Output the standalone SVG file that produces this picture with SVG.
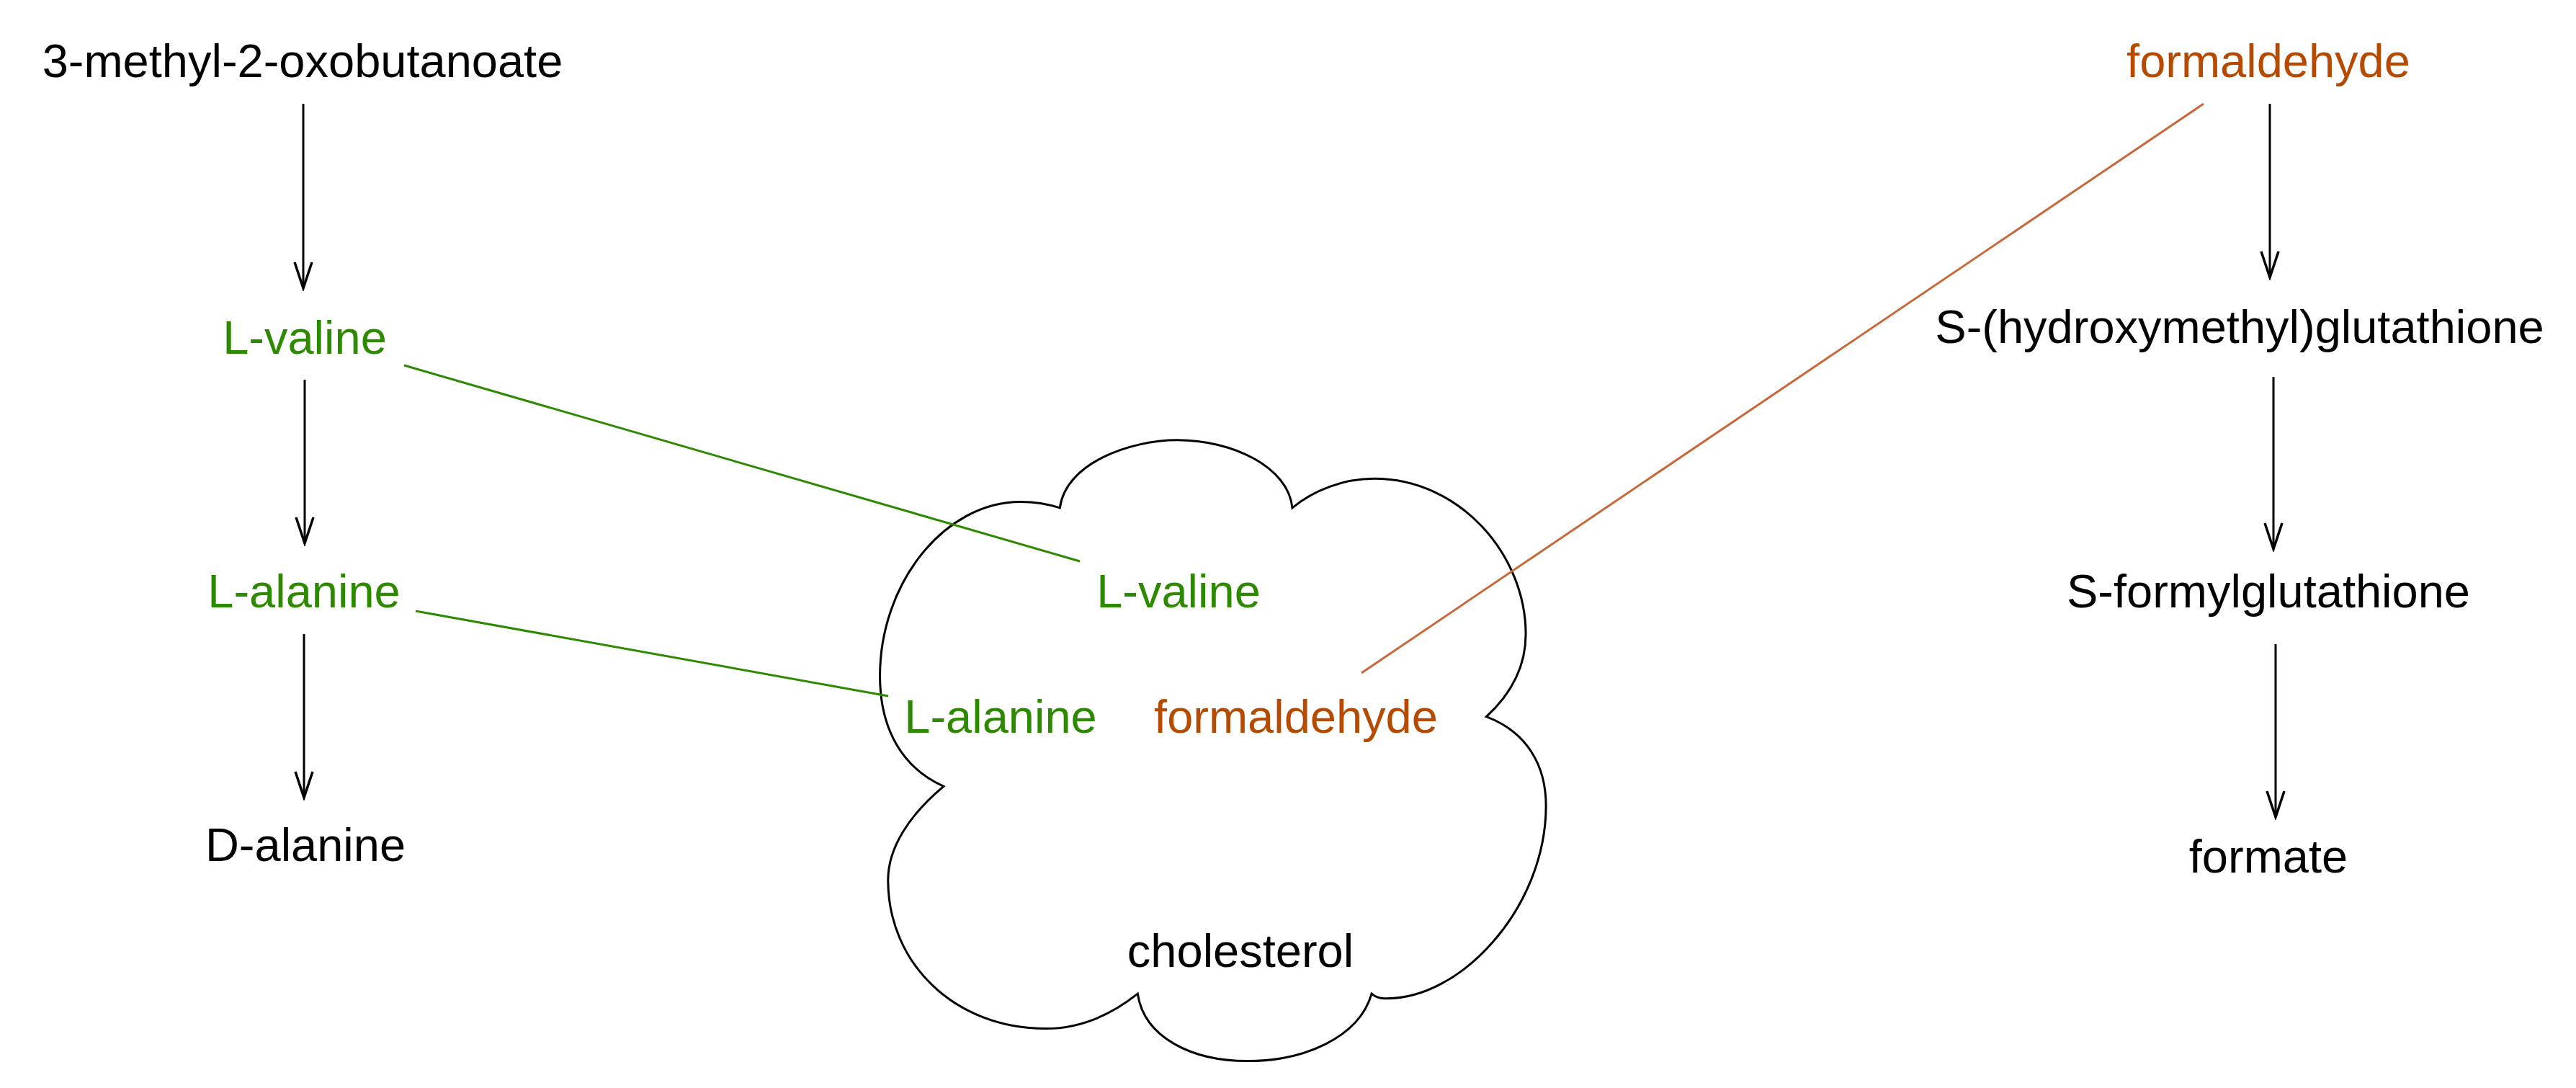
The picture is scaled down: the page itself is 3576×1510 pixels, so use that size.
<svg xmlns="http://www.w3.org/2000/svg" width="3576" height="1510" viewBox="0 0 3576 1510">
<style>
text{font-family:"Liberation Sans",Arial,sans-serif;font-size:65px;text-anchor:middle}
.k{fill:#000}.g{fill:#2d8a00}.o{fill:#b54a00}
.a{stroke:#000;stroke-width:3;fill:none;marker-end:url(#ah)}
.gl{stroke:#2d8a00;stroke-width:3;fill:none}
.ol{stroke:#c8683a;stroke-width:3;fill:none}
</style>
<defs>
<marker id="ah" markerUnits="userSpaceOnUse" markerWidth="44" markerHeight="40" viewBox="-40 -20 44 40" refX="0" refY="0" orient="auto">
<path d="M-36 -12 L0 0 L-36 12" fill="none" stroke="#000" stroke-width="3.5"/>
</marker>
</defs>
<rect width="3576" height="1510" fill="#fff"/>
<g id="cloud">
<path transform="translate(1150 500) scale(0.7015 0.6441)" vector-effect="non-scaling-stroke" d="M458 318 C470 220 600 172 690 172 C800 172 910 230 918 318 C960 280 1020 255 1080 255 C1250 255 1380 420 1380 590 C1380 660 1350 720 1302 768 C1380 800 1420 870 1420 960 C1420 1180 1250 1380 1100 1375 C1090 1375 1080 1370 1075 1365 C1050 1460 940 1510 830 1510 C720 1510 625 1460 612 1365 C560 1410 500 1440 430 1440 C250 1440 118 1300 118 1120 C118 1050 160 980 228 918 C150 880 102 800 102 680 C102 480 230 305 380 305 C410 305 435 310 458 318 Z" fill="#fff" stroke="#000" stroke-width="3"/>
<text class="k" x="1722" y="1342">cholesterol</text>
</g>
<g id="connectors">
<path class="a" d="M421 144 V400"/>
<path class="a" d="M423 527 V754"/>
<path class="a" d="M422 880 V1107"/>
<path class="a" d="M3151 144 V385"/>
<path class="a" d="M3156 523 V762"/>
<path class="a" d="M3159 894 V1134"/>
<path class="gl" d="M561 507 L1499 779"/>
<path class="gl" d="M577 848 L1233 966"/>
<path class="ol" d="M3059 144 L1890 934"/>
</g>
<g id="n1"><text class="k" x="420" y="107">3-methyl-2-oxobutanoate</text></g>
<g id="n2"><text class="g" x="423" y="491">L-valine</text></g>
<g id="n3"><text class="g" x="422" y="843">L-alanine</text></g>
<g id="n4"><text class="k" x="424" y="1195">D-alanine</text></g>
<g id="n5"><text class="g" x="1636" y="843">L-valine</text></g>
<g id="n6"><text class="g" x="1389" y="1017">L-alanine</text></g>
<g id="n7"><text class="o" x="1799" y="1017">formaldehyde</text></g>
<g id="n8"><text class="o" x="3149" y="107">formaldehyde</text></g>
<g id="n9"><text class="k" x="3109" y="476">S-(hydroxymethyl)glutathione</text></g>
<g id="n10"><text class="k" x="3149" y="843">S-formylglutathione</text></g>
<g id="n11"><text class="k" x="3149" y="1211">formate</text></g>
</svg>
